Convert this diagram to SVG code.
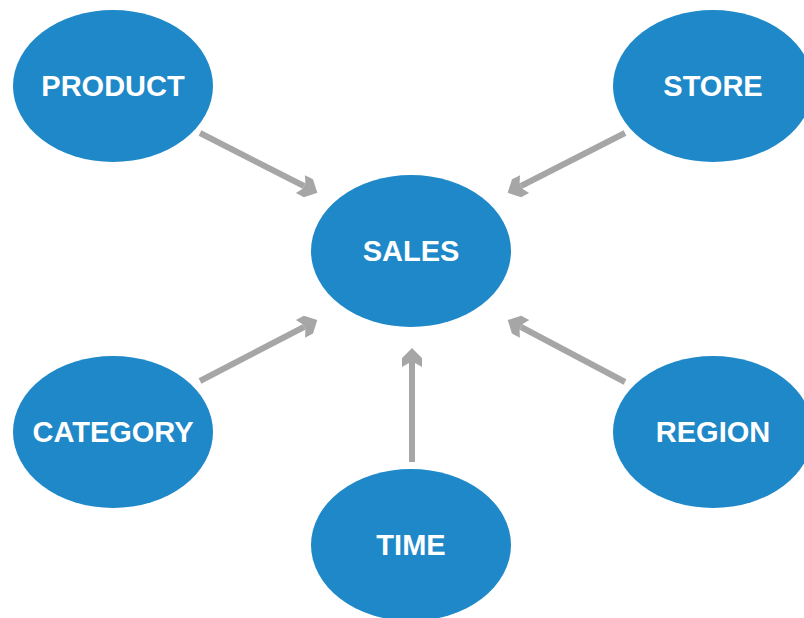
<svg xmlns="http://www.w3.org/2000/svg" width="804" height="618" viewBox="0 0 804 618">
  <style>
    .node ellipse { fill: #1E88C8; }
    .node text { fill: #FFFFFF; font-family: "Liberation Sans", Arial, sans-serif; font-weight: bold; font-size: 29px; text-anchor: middle; }
    .link { stroke: #A6A6A6; stroke-width: 6; fill: none; marker-end: url(#head); }
  </style>
  <defs>
    <!-- notched arrowhead, point at the marker origin -->
    <marker id="head" markerUnits="userSpaceOnUse" viewBox="-22 -12 24 24" refX="-15" refY="0" markerWidth="24" markerHeight="24" orient="auto">
      <path d="M 0 0 L -10 -10 L -19 -10 L -15 -3 L -15 3 L -19 10 L -10 10 Z" fill="#A6A6A6"/>
    </marker>
  </defs>

  <rect width="804" height="618" fill="#FFFFFF"/>

  <g id="connectors">
    <line class="link" x1="200" y1="133" x2="304" y2="186"/>
    <line class="link" x1="625" y1="133" x2="521" y2="186"/>
    <line class="link" x1="200" y1="381" x2="304" y2="327"/>
    <line class="link" x1="625" y1="382" x2="521" y2="327"/>
    <line class="link" x1="412" y1="462" x2="412" y2="363"/>
  </g>

  <g id="product" class="node">
    <ellipse cx="113" cy="86" rx="100" ry="76"/>
    <text x="113" y="96">PRODUCT</text>
  </g>
  <g id="store" class="node">
    <ellipse cx="713" cy="86" rx="100" ry="76"/>
    <text x="713" y="96">STORE</text>
  </g>
  <g id="sales" class="node">
    <ellipse cx="411" cy="251" rx="100" ry="76"/>
    <text x="411" y="261">SALES</text>
  </g>
  <g id="category" class="node">
    <ellipse cx="113" cy="432" rx="100" ry="76"/>
    <text x="113" y="442">CATEGORY</text>
  </g>
  <g id="region" class="node">
    <ellipse cx="713" cy="432" rx="100" ry="76"/>
    <text x="713" y="442">REGION</text>
  </g>
  <g id="time" class="node">
    <ellipse cx="411" cy="545" rx="100" ry="76"/>
    <text x="411" y="555">TIME</text>
  </g>
</svg>
